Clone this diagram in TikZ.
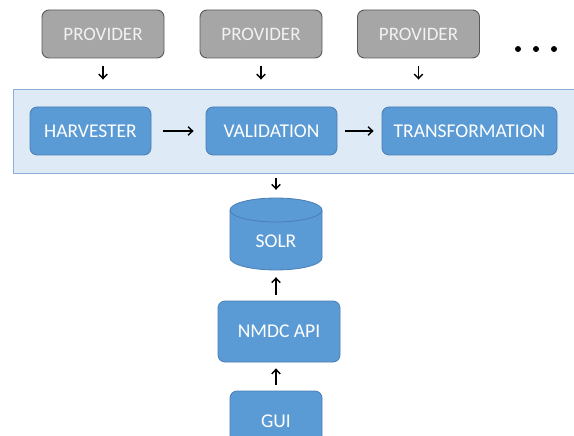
\documentclass[tikz,border=0pt]{standalone}
\usepackage{fontspec}
\setmainfont{Carlito}
\usetikzlibrary{arrows.meta}
\definecolor{provfill}{HTML}{A6A6A6}
\definecolor{provborder}{HTML}{5A5A5A}
\definecolor{provtext}{HTML}{F2F2F2}
\definecolor{bfill}{HTML}{5B9BD5}
\definecolor{bborder}{HTML}{4A7EB5}
\definecolor{pfill}{HTML}{DEEBF7}
\definecolor{pborder}{HTML}{8EAEDA}
\begin{document}
\begin{tikzpicture}[x=1pt,y=-1pt,
  provbox/.style={draw=provborder, fill=provfill, rounded corners=7pt, line width=0.9pt,
    text=provtext, font=\fontsize{19}{21}\selectfont, inner sep=0pt,
    minimum width=122pt, minimum height=48pt},
  bluebox/.style={draw=bborder, fill=bfill, rounded corners=7pt, line width=0.8pt,
    text=white, font=\fontsize{19.5}{21}\selectfont, inner sep=0pt, minimum height=48pt},
  arr/.style={line width=1.4pt, -{Straight Barb[length=4.5pt,width=8.5pt]}},
  dot/.style={circle, fill=black, inner sep=0pt, minimum size=6pt}
]
\useasboundingbox (0,0) rectangle (574,436);
\clip (0,0) rectangle (574,436);
% panel
\node[draw=pborder, fill=pfill, line width=0.9pt, minimum width=565pt, minimum height=84pt, inner sep=0pt] (panel) at (295.5,131) {};
% providers
\node[provbox] (p1) at (103,34) {PROVIDER};
\node[provbox] (p2) at (261,34) {PROVIDER};
\node[provbox] (p3) at (418.5,34) {PROVIDER};
\node[dot] (d1) at (518,49) {};
\node[dot] (d2) at (536,49) {};
\node[dot] (d3) at (554,49) {};
% process boxes
\node[bluebox, minimum width=121pt] (harv) at (90.5,131) {HARVESTER};
\node[bluebox, minimum width=131pt] (valid) at (271.5,131) {VALIDATION};
\node[bluebox, minimum width=175pt] (trans) at (469.5,131) {TRANSFORMATION};
% SOLR cylinder
\node[minimum width=92pt, minimum height=72pt, inner sep=0pt] (solr) at (276,234) {};
\fill[bfill] (230,210) -- (230,258) arc[start angle=180, end angle=360, x radius=46pt, y radius=12pt] -- (322,210) arc[start angle=0, end angle=180, x radius=46pt, y radius=12pt] -- cycle;
\draw[bborder, line width=0.8pt] (230,210) -- (230,258) arc[start angle=180, end angle=360, x radius=46pt, y radius=12pt] -- (322,210);
\draw[bborder, line width=0.8pt] (276,210) ellipse[x radius=46pt, y radius=12pt];
\node[text=white, font=\fontsize{19.5}{21}\selectfont] at (276,241) {SOLR};
% API and GUI
\node[bluebox, minimum width=122pt, minimum height=61pt] (api) at (279,331.5) {NMDC API};
\node[bluebox, minimum width=92pt, minimum height=60pt] (gui) at (276,421) {GUI};
% arrows
\draw[arr, shorten <=8pt, shorten >=9pt] (p1.south) -- (p1.south |- panel.north);
\draw[arr, shorten <=8pt, shorten >=9pt] (p2.south) -- (p2.south |- panel.north);
\draw[arr, shorten <=8pt, shorten >=9pt] (p3.south) -- (p3.south |- panel.north);
\draw[arr, shorten <=12pt, shorten >=12pt] (harv.east) -- (valid.west);
\draw[arr, shorten <=8pt, shorten >=8pt] (valid.east) -- (trans.west);
\draw[arr, shorten <=5pt, shorten >=8pt] (solr.north |- panel.south) -- (solr.north);
\draw[arr, shorten <=6pt, shorten >=7pt] (api.north -| solr.south) -- (solr.south);
\draw[arr, shorten <=6pt, shorten >=6pt] (gui.north) -- (gui.north |- api.south);
\end{tikzpicture}
\end{document}
